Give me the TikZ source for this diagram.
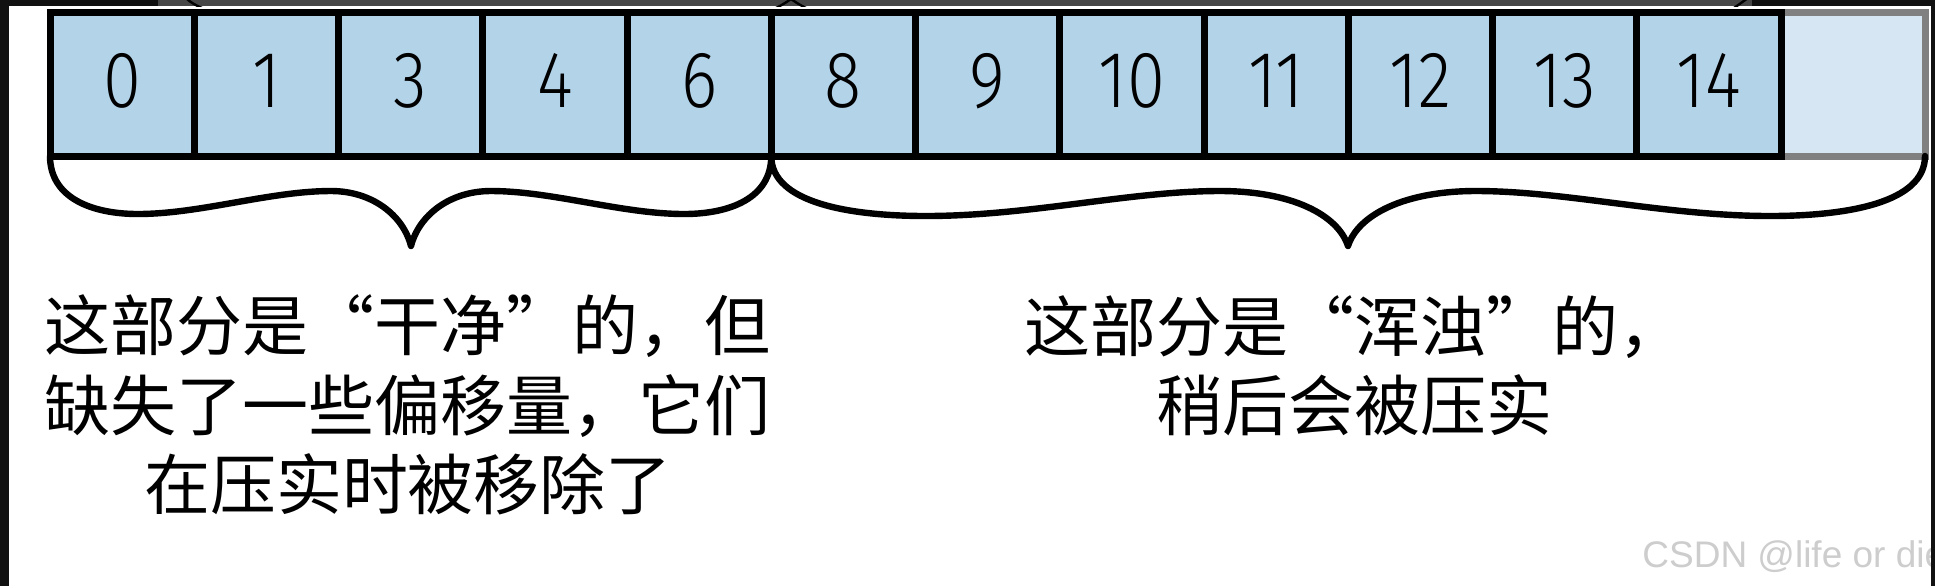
\documentclass[tikz,border=0pt]{standalone}
\usepackage{graphicx}
\usepackage{fontspec}
\setmainfont{Liberation Sans}
\newfontfamily\cjk{Noto Sans CJK SC}
\IfFontExistsTF{Fira Sans Light}{\newfontfamily\digitfont{Fira Sans Light}[Numbers=Proportional]}{\newfontfamily\digitfont{Fira Sans}[Numbers=Proportional]}
\newcommand{\narrowdigits}[1]{\scalebox{0.86}[1]{#1}}
\definecolor{cellblue}{RGB}{179,211,233}
\definecolor{celllight}{RGB}{214,230,243}
\definecolor{edgegrey}{RGB}{128,128,128}
\definecolor{bandc}{RGB}{71,71,71}
\definecolor{framec}{RGB}{17,17,17}
\definecolor{wmgrey}{RGB}{205,205,205}
\tikzset{
  cellbox/.style={draw=black, line width=3.5pt, fill=cellblue, minimum width=72.125pt, minimum height=72pt,
    inner sep=0pt, outer sep=0pt, text height=27pt, text depth=4pt, font=\digitfont\fontsize{40}{40}\selectfont},
  emptycell/.style={cellbox, draw=edgegrey, fill=celllight, minimum width=72pt},
  bracestyle/.style={draw=black, line width=3.2pt, line cap=round, line join=round},
  txt/.style={anchor=base, inner sep=0pt, font=\cjk\fontsize{33}{33}\selectfont},
  wmark/.style={anchor=base west, inner sep=0pt, text=wmgrey, font=\fontsize{18.5}{18.5}\selectfont}
}
\begin{document}
\begin{tikzpicture}[x=0.5pt,y=-0.5pt]
\useasboundingbox[fill=white] (0,0) rectangle (1935,586);
% empty (light) cell
\node[emptycell] (c12) at (1853,84) {};
% filled cells
\foreach \v [count=\i from 0] in {0,1,3,4,6,8,9,10,11,12,13,14}{
  \node[cellbox] (c\i) at ({50+144.25*(\i+0.5)},84) {\narrowdigits{\v}};
}
% left brace
\draw[bracestyle] (c0.south west) .. controls (50,198) and (92,214) .. (138,214)
  .. controls (200,214) and (270,191) .. (331,191)
  .. controls (372,191) and (403,215) .. (411,246)
  .. controls (419,215) and (450,191) .. (491,191)
  .. controls (552,191) and (622,214) .. (684,214)
  .. controls (730,214) and (771.25,198) .. (c4.south east);
% right brace
\draw[bracestyle] (c5.south west) .. controls (771.25,203) and (850,216) .. (926,216)
  .. controls (1030,216) and (1130,191) .. (1220,191)
  .. controls (1292,191) and (1338,215) .. (1348,246)
  .. controls (1358,215) and (1404,191) .. (1476,191)
  .. controls (1566,191) and (1666,216) .. (1770,216)
  .. controls (1846,216) and (1925,203) .. (c12.south east);
% texts
\node[txt] (l1) at (408,350) {这部分是“干净”的，但};
\node[txt] (l2) at (408,430) {缺失了一些偏移量，它们};
\node[txt] (l3) at (408,509) {在压实时被移除了};
\node[txt] (r1) at (1354,351) {这部分是“浑浊”的，};
\node[txt] (r2) at (1354,430) {稍后会被压实};
\node[wmark] (wm) at (1642,567) {CSDN @life or die};
% frame
\fill[framec] (0,0) rectangle (1935,6);
\fill[bandc] (158,0) rectangle (1752,6);
\begin{scope}
  \clip (158,0) rectangle (1752,6);
  \draw[line width=1.2pt] (186,-2) .. controls (190,2) and (195,5) .. (202,8);
  \draw[line width=1.2pt] (776,8) .. controls (784,4) and (788,1) .. (791,-1) .. controls (794,1) and (798,4) .. (806,8);
  \draw[line width=1.2pt] (1734,8) -- (1748,-2);
\end{scope}
\fill[framec] (0,0) rectangle (9,586);
\fill[framec] (1931,0) rectangle (1935,586);
\end{tikzpicture}
\end{document}
